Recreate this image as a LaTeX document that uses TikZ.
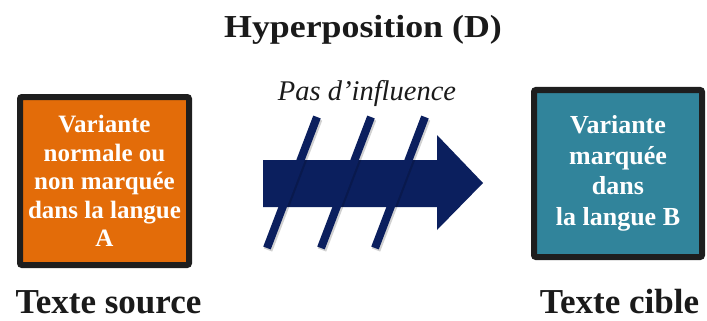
\documentclass[tikz,border=0pt]{standalone}
\usepackage{fontspec}
\setmainfont{Liberation Serif}
\newfontfamily\widefont[FakeStretch=1.12]{Liberation Serif}
\usetikzlibrary{calc}

\definecolor{srcorange}{HTML}{E36C09}
\definecolor{tgtteal}{HTML}{31849B}
\definecolor{boxrim}{HTML}{1E1E1E}
\definecolor{navy}{HTML}{0B1F5E}
\definecolor{ink}{HTML}{1A1A1A}

\tikzset{
  variantbox/.style={draw=boxrim, line width=6pt, rounded corners=2pt,
    inner sep=0pt, align=center, text=white,
    font=\fontsize{25}{28.5}\selectfont\bfseries},
  heading/.style={text=ink, inner sep=0pt,
    font=\widefont\fontsize{32}{36}\selectfont\bfseries},
  caption/.style={text=ink, inner sep=0pt, anchor=base,
    font=\fontsize{35}{38}\selectfont\bfseries},
  slash/.style={navy, line width=8pt},
  slashshade/.style={black, opacity=0.18, line width=9pt},
}

\begin{document}
\begin{tikzpicture}[x=1pt, y=-1pt]
  \useasboundingbox (0,0) rectangle (707,321);

  % title
  \node[heading, anchor=base] (title) at (363,38) {Hyperposition (D)};

  % the two variant boxes
  \node[variantbox, fill=srcorange, minimum width=169pt, minimum height=168pt]
    (src) at (104.5,181) {Variante\\normale ou\\non marquée\\dans la langue\\A};
  \node[variantbox, fill=tgtteal, minimum width=168pt, minimum height=167pt,
    font=\fontsize{26}{30.5}\selectfont\bfseries]
    (tgt) at (618,173.5) {Variante\\marquée\\dans\\la langue B};

  % captions under the boxes
  \node[caption] (srccap) at (108.5,313.5) {Texte source};
  \node[caption] (tgtcap) at (619.5,313.5) {Texte cible};

  % label over the crossed-out arrow
  \node[text=ink, inner sep=0pt, anchor=base,
    font=\fontsize{28.5}{32}\selectfont\itshape]
    (nolink) at (367,100) {Pas d’influence};

  % big block arrow
  \fill[navy] (263,160) -- (437,160) -- (437,135) -- (483,183)
    -- (437,230) -- (437,207) -- (263,207) -- cycle;

  % three strokes crossing the arrow out
  \foreach \dx in {0,54,108} {
    \draw[slashshade] ({318+\dx},119) -- ({268+\dx},250);
    \draw[slash] ({317+\dx},117) -- ({267+\dx},248);
  }
\end{tikzpicture}
\end{document}
